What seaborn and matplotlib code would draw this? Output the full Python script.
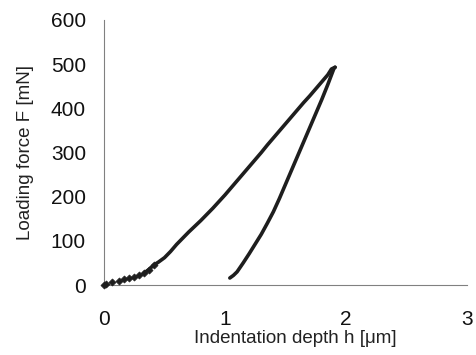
import matplotlib
matplotlib.use("Agg")
import matplotlib.pyplot as plt
import seaborn as sns
import pandas as pd

# Loading branch (indentation depth in µm, force in mN)
load_h = [0.00, 0.02, 0.07, 0.12, 0.165, 0.21, 0.25, 0.29, 0.33, 0.37, 0.41, 0.45,
          0.50, 0.55, 0.60, 0.65, 0.70, 0.75, 0.80, 0.85, 0.90, 0.95, 1.00, 1.05,
          1.10, 1.15, 1.20, 1.25, 1.30, 1.35, 1.40, 1.45, 1.50, 1.55, 1.60, 1.65,
          1.70, 1.75, 1.80, 1.85, 1.88, 1.91]
load_F = [0, 3, 8, 10, 14, 16, 18, 22, 27, 35, 45, 52,
          62, 76, 92, 106, 120, 133, 146, 160, 174, 189, 204, 220,
          236, 252, 268, 284, 300, 317, 333, 349, 365, 381, 397, 413,
          428, 444, 460, 476, 489, 493]

# Unloading branch
unload_h = [1.91, 1.90, 1.85, 1.80, 1.75, 1.70, 1.65, 1.60, 1.55, 1.50, 1.45,
            1.40, 1.35, 1.30, 1.25, 1.20, 1.15, 1.10, 1.07, 1.05, 1.04]
unload_F = [493, 490, 454, 420, 388, 356, 324, 292, 260, 228, 196,
            166, 140, 115, 93, 71, 50, 30, 22, 18, 16]

x_ticks = [0, 1, 2, 3]
y_ticks = [0, 100, 200, 300, 400, 500, 600]

sns.set_theme(style="white")
plt.rcParams['font.family'] = ['Liberation Sans', 'DejaVu Sans']

fig = plt.figure(figsize=(4.76, 3.55), dpi=100)
ax = fig.add_axes([0.2185, 0.197, 0.981 - 0.2185, 0.9437 - 0.197])

col = "#1e1e1e"
load_df = pd.DataFrame({"h": load_h, "F": load_F})
unload_df = pd.DataFrame({"h": unload_h, "F": unload_F})
dense_load = load_df[load_df["h"] >= 0.33]
sparse_load = load_df[load_df["h"] <= 0.41]

sns.lineplot(data=dense_load, x="h", y="F", sort=False, estimator=None,
             color=col, lw=2.6, ax=ax)
sns.lineplot(data=unload_df, x="h", y="F", sort=False, estimator=None,
             color=col, lw=2.6, ax=ax)
sns.scatterplot(data=sparse_load, x="h", y="F", marker="D", s=13, color=col,
                edgecolor=col, linewidth=0.5, ax=ax, zorder=3, clip_on=False)

ax.set_xlim(0, 3)
ax.set_ylim(0, 600)
ax.set_xticks(x_ticks)
ax.set_yticks(y_ticks)
ax.set_xticklabels([str(t) for t in x_ticks])
ax.set_yticklabels([str(t) for t in y_ticks])
ax.set_xlabel("Indentation depth h [μm]", fontsize=13.5, color="#222222")
ax.set_ylabel("Loading force F [mN]", fontsize=13.5, color="#222222")
ax.xaxis.set_label_coords(0.527, -0.168)
ax.yaxis.set_label_coords(-0.192, 0.5)

for s in ["top", "right"]:
    ax.spines[s].set_visible(False)
for s in ["left", "bottom"]:
    ax.spines[s].set_color("#808080")
    ax.spines[s].set_linewidth(0.8)

ax.tick_params(axis="both", which="major", direction="out", length=5, width=0.8,
               color="#808080", labelsize=15, labelcolor="#111111")
ax.tick_params(axis="x", pad=13)
ax.tick_params(axis="y", pad=8)
ax.grid(False)

fig.savefig("out.png", dpi=100)
